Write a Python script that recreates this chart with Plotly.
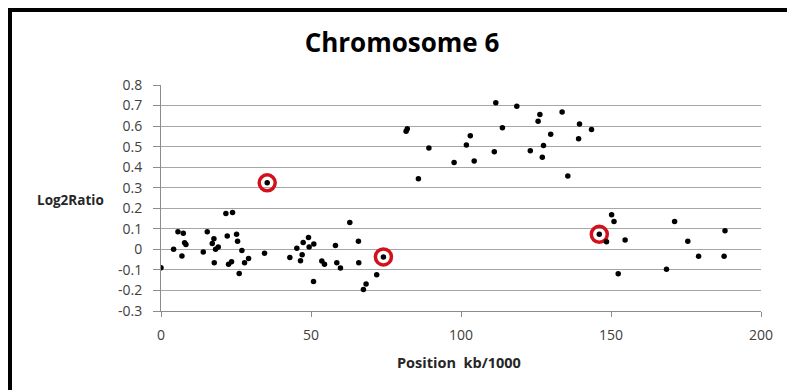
import plotly.graph_objects as go

position = [0.0, 4.2, 5.65, 6.98, 7.43, 7.87, 8.31, 14.09, 15.42, 17.08, 17.64, 17.75, 18.19, 19.08,
            21.63, 23.85, 22.08, 22.52, 23.52, 25.19, 25.52, 26.07, 26.96, 27.85, 29.18, 34.51, 35.4,
            42.95, 45.28, 46.5, 47.05, 47.39, 49.16, 49.38, 50.94, 50.83, 53.6, 54.49, 58.15, 58.6,
            59.82, 62.93, 65.81, 65.92, 71.9, 68.36, 67.47, 74.14,
            81.7, 82.1, 85.8, 89.3, 97.7, 101.8, 103.1, 104.4, 111.1, 111.6, 113.8, 118.6, 123.1,
            125.7, 126.3, 127.1, 127.5, 129.9, 133.7, 135.6, 139.2, 139.5, 143.5,
            146.1, 148.5, 150.2, 151.0, 154.7, 152.4, 168.5, 171.2, 175.6, 179.2, 187.7, 188.0]
log2ratio = [-0.089, 0.0, 0.086, -0.032, 0.078, 0.032, 0.024, -0.013, 0.086, 0.029, 0.052, -0.065, 0.0, 0.011,
             0.175, 0.18, 0.065, -0.073, -0.06, 0.073, 0.039, -0.117, -0.006, -0.065, -0.045, -0.019, 0.324,
             -0.039, 0.006, -0.055, -0.026, 0.034, 0.058, 0.011, 0.026, -0.156, -0.057, -0.073, 0.019, -0.065,
             -0.091, 0.131, 0.04, -0.065, -0.123, -0.169, -0.195, -0.037,
             0.575, 0.587, 0.344, 0.493, 0.423, 0.508, 0.553, 0.43, 0.475, 0.713, 0.592, 0.696, 0.48,
             0.623, 0.657, 0.448, 0.506, 0.56, 0.668, 0.357, 0.538, 0.61, 0.584,
             0.073, 0.037, 0.168, 0.136, 0.045, -0.119, -0.097, 0.136, 0.039, -0.033, -0.033, 0.09]

highlight_position = [35.4, 74.14, 146.1]
highlight_log2ratio = [0.324, -0.037, 0.073]

x_ticks = [0, 50, 100, 150, 200]
y_ticks = [-0.3, -0.2, -0.1, 0, 0.1, 0.2, 0.3, 0.4, 0.5, 0.6, 0.7, 0.8]
y_tick_labels = ["-0.3", "-0.2", "-0.1", "0", "0.1", "0.2", "0.3", "0.4", "0.5", "0.6", "0.7", "0.8"]

FONT = "Open Sans"
fig = go.Figure()
fig.add_trace(go.Scatter(
    x=highlight_position, y=highlight_log2ratio, mode="markers",
    marker=dict(symbol="circle-open", size=16, color="#d3111c", line=dict(width=3.5, color="#d3111c")),
    hoverinfo="skip", showlegend=False))
fig.add_trace(go.Scatter(
    x=position, y=log2ratio, mode="markers",
    marker=dict(symbol="circle", size=5.5, color="#000000"),
    showlegend=False))

L, R, T, B = 161, 26, 85, 79
W, H = 787, 390
pw, ph = W - L - R, H - T - B

fig.update_layout(
    width=W, height=H,
    margin=dict(l=L, r=R, t=T, b=B),
    paper_bgcolor="white", plot_bgcolor="white",
    title=dict(text="<b>Chromosome 6</b>", x=(402) / W, xanchor="center",
               y=1 - 43 / H, yanchor="middle",
               font=dict(family=FONT, size=26, color="#000000")),
    xaxis=dict(range=[0, 200], tickvals=x_ticks, ticktext=[str(v) for v in x_ticks],
               showgrid=False, zeroline=False, showline=True, linecolor="#8c8c8c", linewidth=1,
               ticks="outside", ticklen=5, tickcolor="#8c8c8c", ticklabelstandoff=6,
               tickfont=dict(family=FONT, size=14, color="#404040")),
    yaxis=dict(range=[-0.3, 0.8], tickvals=y_ticks, ticktext=y_tick_labels,
               showgrid=True, gridcolor="#a6a6a6", gridwidth=1, zeroline=False,
               showline=True, linecolor="#8c8c8c", linewidth=1,
               ticks="outside", ticklen=7, tickcolor="#8c8c8c", ticklabelstandoff=8,
               tickfont=dict(family=FONT, size=14, color="#404040")),
    annotations=[
        dict(text="<b>Log2Ratio</b>", xref="paper", yref="paper",
             x=(70 - L) / pw, y=(H - B - 200) / ph, xanchor="center", yanchor="middle",
             showarrow=False, font=dict(family=FONT, size=13.5, color="#262626")),
        dict(text="<b>Position  kb/1000</b>", xref="paper", yref="paper",
             x=(459 - L) / pw, y=(H - B - 362) / ph, xanchor="center", yanchor="middle",
             showarrow=False, font=dict(family=FONT, size=14.5, color="#262626")),
    ],
    shapes=[
        dict(type="line", xref="paper", yref="paper",
             x0=(10 - L) / pw, x1=(W + 20 - L) / pw, y0=(H - B - 10) / ph, y1=(H - B - 10) / ph,
             line=dict(color="#000000", width=4)),
        dict(type="line", xref="paper", yref="paper",
             x0=(10 - L) / pw, x1=(10 - L) / pw, y0=(H - B - 8) / ph, y1=(H - B - H - 20) / ph,
             line=dict(color="#000000", width=4)),
    ],
)

fig.write_html("out.html")
